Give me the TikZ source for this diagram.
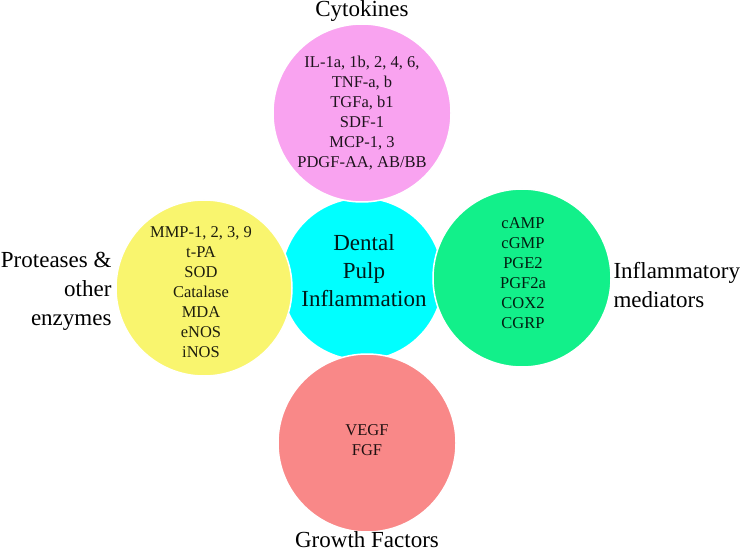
\documentclass[tikz,border=0pt]{standalone}
\usepackage{fontspec}
\setmainfont{Liberation Serif}
\definecolor{cpink}{HTML}{F9A3F0}
\definecolor{ccyan}{HTML}{00FFFF}
\definecolor{cyellow}{HTML}{F9F56E}
\definecolor{cgreen}{HTML}{12F08A}
\definecolor{csalmon}{HTML}{F98888}
\tikzset{
  blob/.style={circle, draw=white, line width=1.5pt, inner sep=0pt},
  inner/.style={align=center, text=black, text opacity=0.88, font=\fontsize{16.5}{20}\selectfont},
  centretext/.style={align=center, text=black, text opacity=0.9, font=\fontsize{23}{28}\selectfont},
  label/.style={text=black, font=\fontsize{23}{29}\selectfont},
}
\begin{document}
\begin{tikzpicture}[x=1pt,y=-1pt]
\useasboundingbox (0,0) rectangle (746,553);
\fill[white] (0,0) rectangle (746,553);
% circles
\node[blob, fill=ccyan, minimum size=162pt] (c) at (362,279) {};
\node[blob, fill=cpink, minimum size=178pt] (p) at (362,113) {};
\node[blob, fill=cyellow, minimum size=176pt] (y) at (204,288) {};
\node[blob, fill=cgreen, minimum size=178pt] (g) at (522,278) {};
\node[blob, fill=csalmon, minimum size=178pt] (s) at (367,443) {};
% texts
\node[centretext] (ct) at (364,271) {Dental\\Pulp\\Inflammation};
\node[inner] (pt) at (362,113) {IL-1a, 1b, 2, 4, 6,\\TNF-a, b\\TGFa, b1\\SDF-1\\MCP-1, 3\\PDGF-AA, AB/BB};
\node[inner] (yt) at (201,292) {MMP-1, 2, 3, 9\\t-PA\\SOD\\Catalase\\MDA\\eNOS\\iNOS};
\node[inner] (gt) at (523,273) {cAMP\\cGMP\\PGE2\\PGF2a\\COX2\\CGRP};
\node[inner] (st) at (367,440) {VEGF\\FGF};
% labels
\node[label, anchor=base] (lc) at (362,17) {Cytokines};
\node[label, align=left, anchor=west] (lg) at (610,285) {Inflammatory\\mediators};
\node[label, align=right, anchor=east] (ly) at (115,291) {Proteases \&\\other\\enzymes};
\node[label, anchor=base] (ls) at (367,547) {Growth Factors};
\end{tikzpicture}
\end{document}
